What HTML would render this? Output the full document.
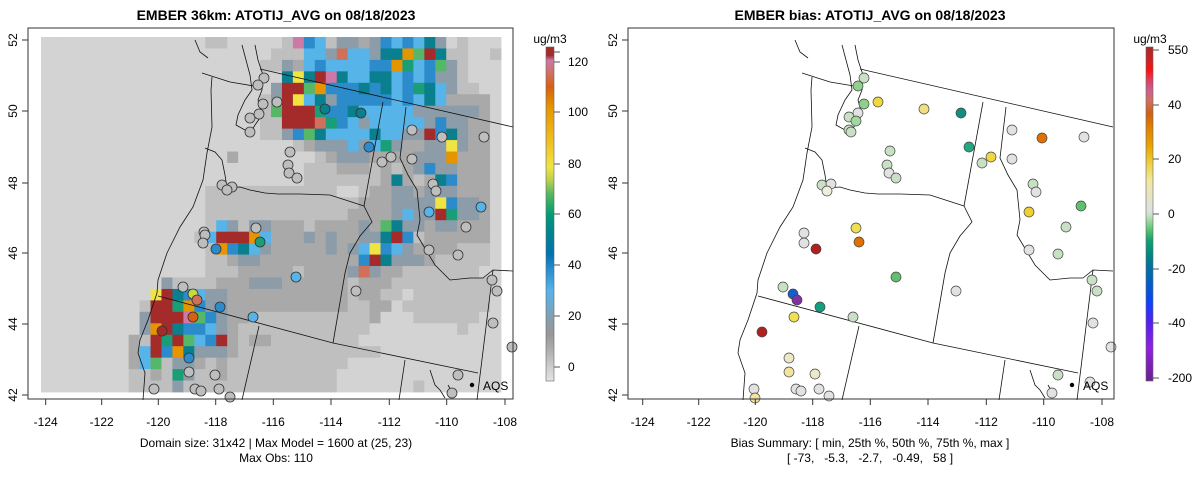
<!DOCTYPE html>
<html><head><meta charset="utf-8"><style>
html,body{margin:0;padding:0;background:#fff;}
svg{display:block;font-family:"Liberation Sans",sans-serif;}
</style></head><body>
<svg id="s" width="1200" height="479" viewBox="0 0 1200 479" xmlns="http://www.w3.org/2000/svg">
<text x="276" y="20" text-anchor="middle" font-size="14" font-weight="bold">EMBER 36km: ATOTIJ_AVG on 08/18/2023</text>
<text x="870" y="20" text-anchor="middle" font-size="14" font-weight="bold">EMBER bias: ATOTIJ_AVG on 08/18/2023</text>
<g id="grid"></g>
<g id="linesL" transform="translate(-600,0)" fill="none" stroke="#111" stroke-width="0.8"></g>
<g id="linesR" fill="none" stroke="#111" stroke-width="0.8"></g>
<g id="circ"></g>
<rect x="28" y="28" width="485" height="371" fill="none" stroke="#333" stroke-width="1"/>
<rect x="628" y="28" width="486" height="371" fill="none" stroke="#333" stroke-width="1"/>
<g id="axes" font-size="12" fill="#000"></g>
<text x="276" y="447" text-anchor="middle" font-size="12">Domain size: 31x42 | Max Model = 1600 at (25, 23)</text>
<text x="276" y="462" text-anchor="middle" font-size="12">Max Obs: 110</text>
<text x="870" y="447" text-anchor="middle" font-size="12">Bias Summary: [ min, 25th %, 50th %, 75th %, max ]</text>
<text x="870" y="462" text-anchor="middle" font-size="12" xml:space="preserve">[ -73,   -5.3,   -2.7,   -0.49,   58 ]</text>
<defs>
<linearGradient id="gl" x1="0" y1="1" x2="0" y2="0">
<stop offset="0" stop-color="#e4e4e4"/><stop offset="0.05" stop-color="#c8c8c8"/><stop offset="0.1" stop-color="#aaaaaa"/><stop offset="0.14" stop-color="#979797"/><stop offset="0.18" stop-color="#8a9ca8"/><stop offset="0.22" stop-color="#6fa8c8"/><stop offset="0.27" stop-color="#56b4e9"/><stop offset="0.33" stop-color="#2a90d0"/><stop offset="0.38" stop-color="#0072b2"/><stop offset="0.45" stop-color="#00868c"/><stop offset="0.5" stop-color="#009e73"/><stop offset="0.56" stop-color="#55b860"/><stop offset="0.6" stop-color="#b8d050"/><stop offset="0.64" stop-color="#f0e442"/><stop offset="0.72" stop-color="#efbf20"/><stop offset="0.82" stop-color="#e69500"/><stop offset="0.88" stop-color="#d86010"/><stop offset="0.92" stop-color="#d07060"/><stop offset="0.96" stop-color="#cc79a7"/><stop offset="0.975" stop-color="#a52a2a"/><stop offset="1" stop-color="#a52a2a"/>
</linearGradient>
<linearGradient id="gr" x1="0" y1="1" x2="0" y2="0">
<stop offset="0" stop-color="#6a2090"/><stop offset="0.1" stop-color="#9020e0"/><stop offset="0.18" stop-color="#5020f0"/><stop offset="0.23" stop-color="#1040ff"/><stop offset="0.3" stop-color="#0060c0"/><stop offset="0.37" stop-color="#008088"/><stop offset="0.42" stop-color="#10a070"/><stop offset="0.45" stop-color="#50c070"/><stop offset="0.48" stop-color="#a0d8a0"/><stop offset="0.5" stop-color="#d0e4cc"/><stop offset="0.51" stop-color="#e0e0e0"/><stop offset="0.56" stop-color="#e8e4c0"/><stop offset="0.6" stop-color="#f0e8a0"/><stop offset="0.65" stop-color="#f0d040"/><stop offset="0.7" stop-color="#e8a800"/><stop offset="0.76" stop-color="#e08000"/><stop offset="0.8" stop-color="#d06010"/><stop offset="0.84" stop-color="#d07060"/><stop offset="0.87" stop-color="#cc6090"/><stop offset="0.9" stop-color="#e04060"/><stop offset="0.93" stop-color="#ff1010"/><stop offset="0.96" stop-color="#d02020"/><stop offset="1" stop-color="#a52a2a"/>
</linearGradient>
</defs>
<rect x="546" y="47" width="8" height="334" fill="url(#gl)" stroke="#666" stroke-width="0.6"/>
<rect x="1146" y="47" width="7" height="334" fill="url(#gr)" stroke="#666" stroke-width="0.6"/>
<text x="550" y="43" text-anchor="middle" font-size="12">ug/m3</text>
<text x="1150" y="43" text-anchor="middle" font-size="12">ug/m3</text>
<g id="cb" font-size="12"></g>
</svg>
<script>
const NS='http://www.w3.org/2000/svg';
function el(p,t,a,txt){const e=document.createElementNS(NS,t);for(const k in a)e.setAttribute(k,a[k]);if(txt!==undefined)e.textContent=txt;p.appendChild(e);return e;}
const C={'.':'#d3d3d3',M:'#bfbfbf',D:'#a9a9a9',S:'#8c9ca8',b:'#56b4e9',B:'#2c8ccb',T:'#0a7f8e',g:'#55b868',G:'#1a9e77',y:'#f0e442',o:'#e69500',r:'#a52a2a',p:'#cc79a7',s:'#d0705a'};
const rows=[
"...............MM.....MpBbMSSDSBbBbTS.M...",
".....................MMMbbSsbbSTTogrTMM..M",
"....................MMSDbBbbbbBBoGbBgSM...",
"......................TyTrpTbbTTbBbBSSM...",
".....................SrrgoBBBTBTbBGTbSMM..",
"....................MSrybTSBBBBBbBbTbDDDD.",
"....................MgrrrGBBTbbbbbSSSSSSD.",
"....................MMrrrsGBbSbbbbbSBSSDD.",
"....................MMSBgTbbbbTbbSSrBTSDD.",
".......................MDSSSbSbGSDDSSySDD.",
".................D.......MDSSSDDDDSSSoDDD.",
"........................MMMDDDMDMDSBSSDDD.",
"........................MMMMMMMDTDMDTBDDD.",
"...............MMMMMMMMMMMM..MDDSSDSSSDDD.",
"...............MMMMMMMMMMMMMMDDDSSSSyBSSD.",
"...............MMMMMMMMMMMMMDDDDSbSSrGSSD.",
"...............MbSMSSDDDMDDDDSDgTSSDSSDDD.",
"..............MbrrrobDDDSDSDDSSTrBMDDDDDD.",
"...............MoBTbSDDDDDSDSbyBbSDDDDMMM.",
"...............MMDSSDDDDDDDDDBrTSSSDMMMMM.",
"...............MMMDDDDDMDDDDSsSDDMMMMMMM.",
"...........SMMMMDDDSSSDDDDDDMDDDMMMMMMMMM.",
"..........yrTBbSSDDDDDDDDDDDMDDMM.MMMMMMM.",
".........MrrGoBSSDDDDDDDDDDDMMDD.MMMMMMMM.",
".........SrrrpgBSDDMMMMMMMMMMMD...MMMMMM..",
".........SorTBBbSDMMMMMMMMMMMM........M...",
"........DMrGrgbBrDMDDMMMMMMMM.............",
"........DbrBoTSSSDMMMMMMMMMMMMM...........",
"........DbgMSSDMDMMMMMMMMMMM..............",
"........MMDMGSMMDMMMMMMMMMM...............",
"........MMMMSMMMMMMMMMMMMMM.......M......."];
const g=document.getElementById('grid');
const cw=460/42,ch=355/31;
rows.forEach((r,i)=>{for(let j=0;j<42;j++){const c=C[r[j]||'.']||C['.'];el(g,'rect',{x:(41+j*cw).toFixed(2),y:(37+i*ch).toFixed(2),width:(cw+0.4).toFixed(2),height:(ch+0.4).toFixed(2),fill:c});}});
const lines=[
"860,69 1113,127",
"983,102 964,206",
"827,188 840,187 850,190 865,193 878,194 900,194 930,195 964,206",
"964,206 972,222 960,236 950,253 945,273 933,343",
"1006,107 1000,158 1008,175 1017,190 1020,220 1017,235 1035,265 1043,273 1050,280 1070,278 1083,278 1093,270 1113,271",
"1093,270 1077,400",
"758,296 933,343 1078,373",
"859,326 842,400",
"1005,360 999,400",
"812,77 811,90 812,127 807,153 803,180 793,207 780,227 767,253 758,280 757,293 748,320 740,340 738,353 745,373 743,400",
"802,73 830,82 860,87",
"805,148 815,152 822,160 825,175 827,188",
"842,45 846,60 850,75 852,90 845,100 838,115 836,125 845,130",
"855,45 858,60 863,75 862,90 858,100 862,115 855,125 850,133",
"795,40 800,52 808,58",
"1030,370 1035,385 1040,390 1045,398",
"1048,385 1052,392"
];
['linesL','linesR'].forEach(id=>{const p=document.getElementById(id);lines.forEach(l=>el(p,'polyline',{points:l}));});
const circ=document.getElementById('circ');
const GR='#bebebe';
const L=[[264,78],[258,85],[277,102],[263,104],[325,109,'#0a7f8e'],[361,113,'#0a7f8e'],[250,118],[259,114],[250,132],[412,130],[442,137],[484,137],[290,152],[369,147,'#2c8ccb'],[288,165],[289,173],[297,178],[382,162],[391,157],[412,159],[222,185],[232,187],[227,190],[433,184],[436,191],[481,207,'#56b4e9'],[429,212,'#56b4e9'],[466,227],[204,232],[205,235],[203,243],[256,228],[260,242,'#1a9e77'],[216,249,'#2c8ccb'],[429,250],[458,255],[296,277,'#56b4e9'],[356,291],[492,280],[497,291],[493,323],[183,287],[193,294,'#c8d840'],[197,300,'#d0705a'],[220,307,'#2c8ccb'],[253,317,'#56b4e9'],[193,317,'#d86010'],[162,331,'#a52a2a'],[512,347],[189,358,'#2c8ccb'],[189,372],[215,375],[154,389],[195,389],[201,391],[219,389],[230,397],[458,375],[452,393]];
const PG='#c8e0c4',PW='#e2e2e2';
const R=[[864,78,PG],[858,86,'#8fd08f'],[878,102,'#f0d840'],[864,104,'#8fd08f'],[924,109,'#f0e080'],[961,113,'#10907a'],[858,113,PW],[849,117,PG],[856,121,'#a0d8a0'],[849,130,PG],[851,132,PG],[1012,130,PW],[1042,138,'#e07000'],[1084,137,PW],[890,151,PG],[969,147,'#20a880'],[991,157,'#f0d840'],[982,163,PG],[1012,159,PW],[887,165,PG],[889,173,PW],[896,178,PG],[822,185,PG],[831,184,PW],[827,191,'#eeeedd'],[1033,184,PG],[1036,192,PW],[1081,206,'#60c070'],[1029,212,'#f0d030'],[1066,227,PG],[804,233,PW],[804,243,PW],[856,228,'#f0e050'],[859,242,'#e07000'],[816,249,'#b02020'],[1029,250,PW],[1058,254,PG],[896,277,'#60c070'],[956,291,PW],[1092,280,PG],[1097,291,PG],[783,287,PG],[793,294,'#1060d0'],[797,300,'#8030a0'],[820,307,'#10a080'],[853,317,PG],[794,317,'#f0e050'],[762,332,'#b02020'],[1093,323,PW],[1111,347,PW],[789,358,'#ece8c8'],[789,372,'#f0e4a0'],[815,374,'#ece8c8'],[754,389,PW],[796,389,PW],[801,391,PW],[819,389,PW],[829,396,PW],[755,398,'#f0e4a0'],[1058,375,PG],[1052,393,PW],[1090,382,PW]];
L.forEach(c=>el(circ,'circle',{cx:c[0],cy:c[1],r:5,fill:c[2]||GR,stroke:'#333','stroke-width':0.8}));
R.forEach(c=>el(circ,'circle',{cx:c[0],cy:c[1],r:5,fill:c[2],stroke:'#444','stroke-width':0.7}));
el(circ,'circle',{cx:472,cy:385,r:2.2,fill:'#000'});el(circ,'circle',{cx:1072,cy:385,r:2.2,fill:'#000'});
el(circ,'text',{x:483,y:390,'font-size':12},'AQS');el(circ,'text',{x:1083,y:390,'font-size':12},'AQS');
const ax=document.getElementById('axes');
const xt=[45.7,101.7,158.3,215.7,273.3,331,389.3,446.7,505];
const yt=[[40,52],[111,50],[183,48],[253,46],[324,44],[395,42]];
[0,597].forEach(off=>{
 xt.forEach((x,i)=>{el(ax,'line',{x1:x+off,y1:399,x2:x+off,y2:405,stroke:'#333'});el(ax,'text',{x:x+off,y:426,'text-anchor':'middle'},String(-124+2*i));});
 const bx=off?628:28;
 yt.forEach(([y,v])=>{el(ax,'line',{x1:bx-6,y1:y,x2:bx,y2:y,stroke:'#333'});const lx=bx-15;el(ax,'text',{x:lx,y:y,'text-anchor':'middle',transform:`rotate(-90 ${lx} ${y})`,dy:'4'},String(v));});
});
const cb=document.getElementById('cb');
[[52,''],[62,'120'],[112,'100'],[164,'80'],[214,'60'],[265,'40'],[316,'20'],[367,'0']].forEach(([y,t])=>{el(cb,'line',{x1:554,y1:y,x2:560,y2:y,stroke:'#555'});if(t)el(cb,'text',{x:568,y:y+4},t);});
[[50,'550'],[105,'40'],[159,'20'],[214,'0'],[269,'-20'],[323,'-40'],[378,'-200']].forEach(([y,t])=>{el(cb,'line',{x1:1153,y1:y,x2:1159,y2:y,stroke:'#555'});el(cb,'text',{x:1168,y:y+4},t);});
</script>
</body></html>
